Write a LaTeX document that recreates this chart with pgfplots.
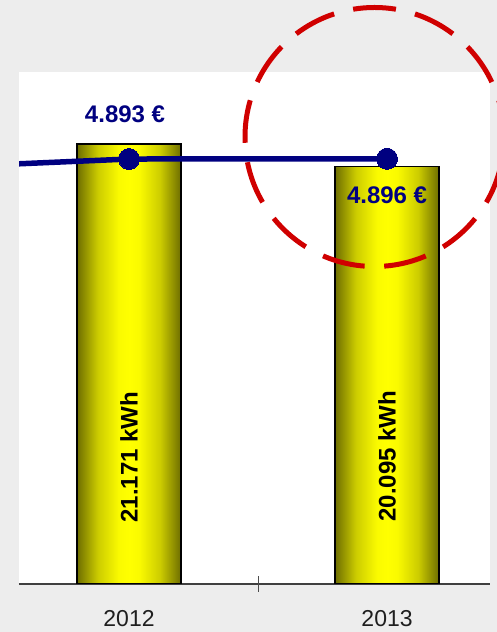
\documentclass[border=0pt]{standalone}
\usepackage{fontspec}
\setmainfont{Liberation Sans}
\usepackage{pgfplots}
\pgfplotsset{compat=1.18}
\definecolor{bg}{RGB}{237,237,237}
\definecolor{navyline}{RGB}{0,0,128}
\definecolor{circred}{RGB}{208,0,0}
\pgfdeclarehorizontalshading{barshade}{100bp}{%
  rgb(0bp)=(0.43,0.43,0);
  rgb(25bp)=(0.43,0.43,0);
  rgb(35bp)=(0.80,0.80,0);
  rgb(45bp)=(0.98,0.98,0);
  rgb(50bp)=(1,1,0);
  rgb(55bp)=(0.98,0.98,0);
  rgb(65bp)=(0.80,0.80,0);
  rgb(75bp)=(0.43,0.43,0);
  rgb(100bp)=(0.43,0.43,0)}
\begin{document}
\begin{tikzpicture}[x=1pt,y=1pt]
\fill[bg] (0,0) rectangle (497,632);
\clip (0,0) rectangle (497,632);
\begin{axis}[
  at={(19pt,48pt)}, anchor=south west, scale only axis,
  width=471pt, height=512pt,
  xmin=-0.4264, xmax=1.399, ymin=0, ymax=24635,
  axis background/.style={fill=white},
  axis x line*=bottom, axis y line=none,
  axis line style={draw=black!75, line width=1.5pt, -},
  xtick={0,1}, xticklabels={2012,2013}, major tick length=0pt,
  xticklabel style={font=\fontsize{23}{23}\selectfont, anchor=center, yshift=-34.7pt, text=black!88},
  extra x ticks={0.5}, extra x tick labels={},
  extra x tick style={major tick length=15pt, tick align=center, tick style={draw=black!70, line width=1pt}},
]
\addplot[ybar, bar width=104pt, bar shift=0pt, draw=black, line width=1.4pt,
  shading=barshade]
  coordinates {(0,21171)};
\addplot[ybar, bar width=104pt, bar shift=0pt, draw=black, line width=1.4pt,
  shading=barshade]
  coordinates {(1,20095)};
\node[rotate=90, font=\bfseries\fontsize{24}{24}\selectfont, text=black] at (axis cs:0,6100) {21.171 kWh};
\node[rotate=90, font=\bfseries\fontsize{24}{24}\selectfont, text=black] at (axis cs:1,6150) {20.095 kWh};
\end{axis}
\begin{axis}[
  at={(19pt,48pt)}, anchor=south west, scale only axis,
  width=471pt, height=512pt,
  xmin=-0.4264, xmax=1.399, ymin=0, ymax=5895,
  axis lines=none,
]
\addplot[navyline, line width=5.5pt, mark=*, mark size=10.5pt,
  mark options={fill=navyline, draw=navyline, line width=0pt}]
  coordinates {(-1,4764) (0,4893) (1,4896)};
\node[text=navyline, font=\bfseries\fontsize{24}{24}\selectfont, yshift=45pt, xshift=-4pt] at (axis cs:0,4893) {4.893 €};
\node[text=navyline, font=\bfseries\fontsize{24}{24}\selectfont, yshift=-36.5pt] at (axis cs:1,4896) {4.896 €};
\end{axis}
\draw[circred, line width=5pt, dash pattern=on 43pt off 19.59pt, dash phase=5.87pt] (374.5,495) circle (129.5pt);
\end{tikzpicture}
\end{document}
